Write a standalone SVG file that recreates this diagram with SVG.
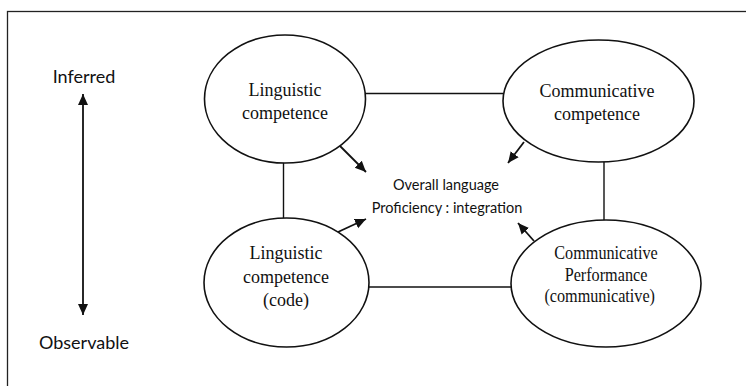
<svg xmlns="http://www.w3.org/2000/svg" width="746" height="386" viewBox="0 0 746 386">
<style>
.node{fill:#fff;stroke:#111;stroke-width:1.6}
.lbl{font-family:"Liberation Serif","Times New Roman",serif;font-size:18px;fill:#111;text-anchor:middle}
.side{font-family:Lato,"Open Sans","Liberation Sans",sans-serif;font-size:18px;fill:#111;text-anchor:middle}
.mid{font-family:Lato,"Open Sans","Liberation Sans",sans-serif;font-size:14.5px;fill:#111;text-anchor:middle}
.conn{stroke:#111;stroke-width:1.4;fill:none}
.arr{stroke:#111;stroke-width:1.8;fill:none}
</style>
<defs>
<marker id="ah" markerUnits="userSpaceOnUse" markerWidth="12" markerHeight="12" viewBox="0 0 12 12" refX="11" refY="6" orient="auto-start-reverse">
<path d="M0,1 L11,6 L0,11 Z" fill="#111"/>
</marker>
</defs>
<rect x="0" y="0" width="746" height="386" fill="#fff"/>
<rect x="7.5" y="11.5" width="760" height="400" fill="none" stroke="#222" stroke-width="1.3"/>
<g id="scale">
<text class="side" x="84" y="83">Inferred</text>
<text class="side" x="84" y="349">Observable</text>
<line class="arr" x1="83" y1="94" x2="83" y2="315" marker-start="url(#ah)" marker-end="url(#ah)" stroke-width="2"/>
</g>
<g id="connectors">
<line class="conn" x1="365" y1="93.5" x2="503" y2="93.5" stroke-width="1.8"/>
<line class="conn" x1="283.5" y1="163" x2="283.5" y2="219"/>
<line class="conn" x1="369" y1="287" x2="512" y2="287"/>
<line class="conn" x1="604" y1="162" x2="604" y2="220"/>
<line class="arr" x1="340" y1="146" x2="366" y2="172" marker-end="url(#ah)"/>
<line class="arr" x1="524" y1="142" x2="508" y2="163" marker-end="url(#ah)"/>
<line class="arr" x1="338" y1="232" x2="366" y2="219" marker-end="url(#ah)"/>
<line class="arr" x1="534" y1="241" x2="518" y2="223" marker-end="url(#ah)"/>
</g>
<g id="ling-comp">
<ellipse class="node" cx="285" cy="99" rx="80.5" ry="64"/>
<text class="lbl" x="285" y="96">Linguistic</text>
<text class="lbl" x="285" y="119">competence</text>
</g>
<g id="comm-comp">
<ellipse class="node" cx="598.5" cy="101" rx="95.5" ry="61"/>
<text class="lbl" x="597" y="97">Communicative</text>
<text class="lbl" x="597" y="120">competence</text>
</g>
<g id="ling-code">
<ellipse class="node" cx="286.5" cy="282.5" rx="82.5" ry="64.5"/>
<text class="lbl" x="286" y="259">Linguistic</text>
<text class="lbl" x="286" y="283">competence</text>
<text class="lbl" x="286" y="306">(code)</text>
</g>
<g id="comm-perf">
<ellipse class="node" cx="606" cy="283.5" rx="95" ry="63.5"/>
<g transform="translate(606,0) scale(0.9,1)">
<text class="lbl" x="0" y="259">Communicative</text>
<text class="lbl" x="0" y="281">Performance</text>
<text class="lbl" x="-7" y="302">(communicative)</text>
</g>
</g>
<g id="overall">
<text class="mid" x="446" y="190">Overall language</text>
<text class="mid" x="447" y="213">Proficiency : integration</text>
</g>
</svg>
